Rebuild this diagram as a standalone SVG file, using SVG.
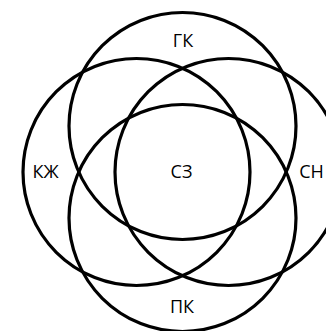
<svg xmlns="http://www.w3.org/2000/svg" width="326" height="331" viewBox="0 0 326 331">
<style>
.c{fill:none;stroke:#000;stroke-width:3.2}
.t{font-family:"Open Sans","Noto Sans","DejaVu Sans",sans-serif;font-size:18px;fill:#000;text-anchor:middle}
</style>
<rect width="326" height="331" fill="#fff"/>
<g id="edges"></g>
<g id="gk"><circle class="c" cx="182.5" cy="126" r="113.5"/><text class="t" x="183" y="47">ГК</text></g>
<g id="kzh"><circle class="c" cx="136.5" cy="172" r="113.5"/><text class="t" x="45.5" y="177.5">КЖ</text></g>
<g id="sn"><circle class="c" cx="228.5" cy="172" r="113.5"/><text class="t" x="311.5" y="177.5">СН</text></g>
<g id="pk"><circle class="c" cx="182.5" cy="218" r="113.5"/><text class="t" x="182" y="313">ПК</text></g>
<g id="sz"><text class="t" x="181.5" y="177.5">СЗ</text></g>
</svg>
